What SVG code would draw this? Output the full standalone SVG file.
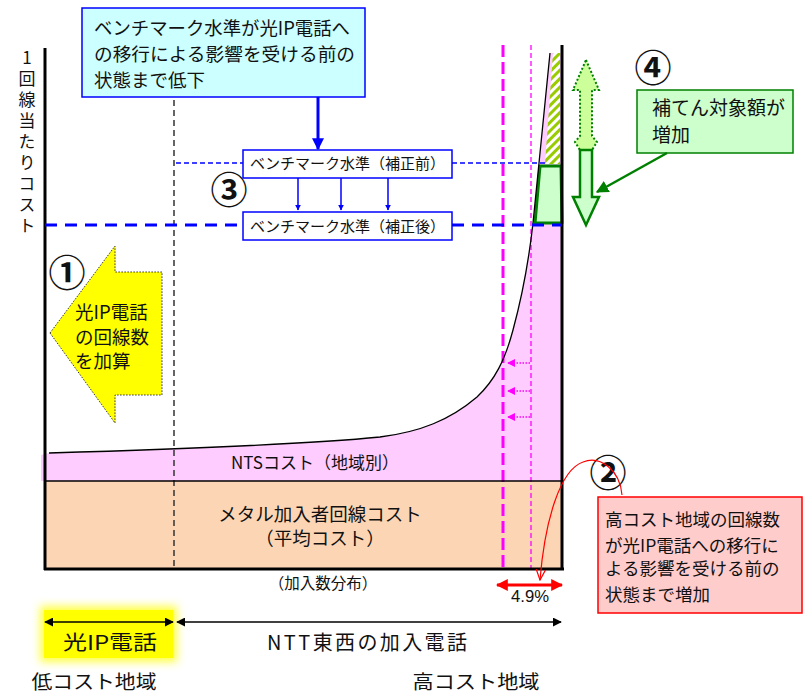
<svg xmlns="http://www.w3.org/2000/svg" width="810" height="693" viewBox="0 0 810 693">
<style>
text{font-family:"Noto Sans CJK JP","Noto Sans",sans-serif;fill:#111}
.ax{stroke:#000;stroke-width:3;fill:none}
.num{font-size:37px;font-weight:bold}
.bm{font-size:15px}
.bbox{fill:#fff;stroke:#0000ff;stroke-width:1.5}
</style>
<defs>
<pattern id="hatch" width="6" height="6" patternUnits="userSpaceOnUse" patternTransform="rotate(45)">
<rect width="6" height="6" fill="#fff"/><rect width="3" height="6" fill="#99CC00"/>
</pattern>
<marker id="mBlue" viewBox="0 0 10 10" refX="9" refY="5" markerWidth="4" markerHeight="4" orient="auto"><path d="M0,0 L10,5 L0,10 Z" fill="#0000ff"/></marker>
<marker id="mBlk" viewBox="0 0 10 10" refX="9" refY="5" markerWidth="6" markerHeight="6" orient="auto-start-reverse"><path d="M0,0 L10,5 L0,10 Z" fill="#000"/></marker>
<marker id="mRed" viewBox="0 0 10 10" refX="9" refY="5" markerWidth="4" markerHeight="4" orient="auto-start-reverse"><path d="M0,0 L10,5 L0,10 Z" fill="#ff0000"/></marker>
<marker id="mRedOpen" viewBox="0 0 10 10" refX="9" refY="5" markerWidth="12" markerHeight="12" markerUnits="userSpaceOnUse" orient="auto"><path d="M0,1 L9,5 L0,9" fill="none" stroke="#ff0000" stroke-width="1"/></marker>
<marker id="mGrn" viewBox="0 0 10 10" refX="9" refY="5" markerWidth="5" markerHeight="5" orient="auto"><path d="M0,0 L10,5 L0,10 Z" fill="#008000"/></marker>
<marker id="mMag" viewBox="0 0 10 10" refX="9" refY="5" markerWidth="8" markerHeight="8" markerUnits="userSpaceOnUse" orient="auto"><path d="M0,0 L10,5 L0,10 Z" fill="#ff00ff"/></marker>
<filter id="glow" x="-20%" y="-30%" width="140%" height="160%"><feGaussianBlur stdDeviation="4"/></filter>
</defs>

<g id="chart">
<path d="M41,455 L49,453 C150,450 300,445 380,437 C420,432 450,420 477,397 C495,380 505,360 513,330 C523,293 530,250 533,223 L550,53 L562,53 L562,481 L41,481 Z" fill="#FFCCFF"/>
<rect x="45" y="481" width="517" height="88" fill="#FCD5B4"/>
<polygon points="553,53 560,53 560,164 545,164" fill="url(#hatch)"/>
<polygon points="540,166 561,166 562,223 535,223" fill="#CCFFCC" stroke="#008000" stroke-width="3" stroke-linejoin="round"/>
<line x1="503" y1="45" x2="503" y2="569" stroke="#ff00ff" stroke-width="3" stroke-dasharray="12,5"/>
<line x1="531" y1="45" x2="531" y2="569" stroke="#ff00ff" stroke-width="1.3" stroke-dasharray="5,3"/>
<path d="M49,453 C150,450 300,445 380,437 C420,432 450,420 477,397 C495,380 505,360 513,330 C523,293 530,250 533,223 L550,53" fill="none" stroke="#000" stroke-width="1.3"/>
<line x1="174" y1="100" x2="174" y2="569" stroke="#333" stroke-width="1.5" stroke-dasharray="6,4"/>
<line x1="45" y1="481" x2="564" y2="481" stroke="#000" stroke-width="1.5"/>
<line class="ax" x1="45" y1="48" x2="45" y2="570"/>
<line class="ax" x1="562" y1="45" x2="562" y2="570"/>
<line class="ax" x1="44" y1="569" x2="564" y2="569"/>
<line x1="176" y1="163" x2="243" y2="163" stroke="#0000ff" stroke-width="1.3" stroke-dasharray="5,3"/>
<line x1="452" y1="163" x2="545" y2="163" stroke="#0000ff" stroke-width="1.3" stroke-dasharray="5,3"/>
<line x1="45" y1="225" x2="243" y2="225" stroke="#0000ff" stroke-width="3" stroke-dasharray="12,8"/>
<line x1="452" y1="225" x2="562" y2="225" stroke="#0000ff" stroke-width="3" stroke-dasharray="12,8"/>
<text x="315" y="469" font-size="17" text-anchor="middle">NTSコスト（地域別）</text>
<text font-size="18.5" text-anchor="middle"><tspan x="320" y="520.5">メタル加入者回線コスト</tspan><tspan x="320" y="545">（平均コスト）</tspan></text>
<text x="323" y="588.5" font-size="15.5" text-anchor="middle">（加入数分布）</text>
<text x="530" y="602" font-size="16" text-anchor="middle" style="font-family:'Liberation Sans',sans-serif" textLength="38" lengthAdjust="spacingAndGlyphs">4.9%</text>
</g>

<g id="yaxis-label">
<text x="27" y="49" font-size="17" style="writing-mode:vertical-rl;text-orientation:upright" letter-spacing="4">1回線当たりコスト</text>
</g>

<g id="callout-top">
<rect x="82" y="8" width="283" height="89" fill="#CCFFFF" stroke="#0000ff" stroke-width="1.5"/>
<text font-size="18.5"><tspan x="94" y="34.5" textLength="256" lengthAdjust="spacingAndGlyphs">ベンチマーク水準が光IP電話へ</tspan><tspan x="94" y="61" textLength="261" lengthAdjust="spacingAndGlyphs">の移行による影響を受ける前の</tspan><tspan x="94" y="87">状態まで低下</tspan></text>
</g>

<g id="bm-before">
<rect class="bbox" x="243" y="150" width="209" height="28"/>
<text class="bm" x="347.5" y="169" text-anchor="middle">ベンチマーク水準（補正前）</text>
</g>
<g id="bm-after">
<rect class="bbox" x="243" y="212" width="209" height="28"/>
<text class="bm" x="347.5" y="231.5" text-anchor="middle">ベンチマーク水準（補正後）</text>
</g>

<g id="yellow-arrow">
<polygon points="50,333 115,246 115,272 162,272 162,395 115,395 115,423" fill="#FFFF00" stroke="#333" stroke-width="1" stroke-dasharray="1.5,1.5"/>
<text font-size="18.5"><tspan x="75" y="318.5">光IP電話</tspan><tspan x="75" y="343.5">の回線数</tspan><tspan x="75" y="368">を加算</tspan></text>
</g>

<g id="green-double-arrow">
<polygon points="586,60 599,90 592,90 592,136 597,142 592,150 586,163 580,150 575,142 580,136 580,90 573,90" fill="#CCFF99" stroke="#008000" stroke-width="2" stroke-dasharray="2,2"/>
<polygon points="580,150 592,150 592,197 599,197 586,225 573,197 580,197" fill="#CCFFCC" stroke="#008000" stroke-width="2.5" stroke-linejoin="miter"/>
</g>

<g id="callout-green">
<rect x="637" y="90" width="156" height="63" fill="#CCFFCC" stroke="#008000" stroke-width="1.5"/>
<text font-size="19"><tspan x="652" y="115">補てん対象額が</tspan><tspan x="652" y="142">増加</tspan></text>
</g>

<g id="callout-red">
<rect x="598" y="497" width="204" height="116" fill="#FFCCCC" stroke="#ff0000" stroke-width="1.5"/>
<text font-size="17.5"><tspan x="605" y="526">高コスト地域の回線数</tspan><tspan x="605" y="552">が光IP電話への移行に</tspan><tspan x="605" y="575">よる影響を受ける前の</tspan><tspan x="605" y="601">状態まで増加</tspan></text>
</g>

<g id="labels-num">
<text class="num" x="67" y="287" text-anchor="middle">①</text>
<text class="num" x="608" y="487" text-anchor="middle">②</text>
<text class="num" x="229" y="204" text-anchor="middle">③</text>
<text class="num" x="653" y="82" text-anchor="middle">④</text>
</g>

<g id="bottom">
<rect x="40" y="606" width="137" height="56" fill="#FFFF44" filter="url(#glow)"/>
<rect x="44" y="610" width="129" height="48" fill="#FFFF00"/>
<text x="110" y="650" font-size="20" text-anchor="middle" textLength="94" lengthAdjust="spacingAndGlyphs">光IP電話</text>
<text x="367" y="650" font-size="20" text-anchor="middle" textLength="200" lengthAdjust="spacing">NTT東西の加入電話</text>
<text x="94" y="689" font-size="19" text-anchor="middle" textLength="125" lengthAdjust="spacingAndGlyphs">低コスト地域</text>
<text x="476" y="689" font-size="19" text-anchor="middle" textLength="127" lengthAdjust="spacingAndGlyphs">高コスト地域</text>
</g>

<g id="connectors" fill="none">
<line x1="318" y1="97" x2="318" y2="149" stroke="#0000ff" stroke-width="3" marker-end="url(#mBlue)"/>
<line x1="298" y1="178" x2="298" y2="210" stroke="#0000ff" stroke-width="1.5" marker-end="url(#mBlue)"/>
<line x1="341" y1="178" x2="341" y2="210" stroke="#0000ff" stroke-width="1.5" marker-end="url(#mBlue)"/>
<line x1="388" y1="178" x2="388" y2="210" stroke="#0000ff" stroke-width="1.5" marker-end="url(#mBlue)"/>
<line x1="530" y1="363" x2="508" y2="363" stroke="#ff00ff" stroke-width="1.3" stroke-dasharray="1.5,1.5" marker-end="url(#mMag)"/>
<line x1="530" y1="391" x2="508" y2="391" stroke="#ff00ff" stroke-width="1.3" stroke-dasharray="1.5,1.5" marker-end="url(#mMag)"/>
<line x1="530" y1="417" x2="508" y2="417" stroke="#ff00ff" stroke-width="1.3" stroke-dasharray="1.5,1.5" marker-end="url(#mMag)"/>
<line x1="667" y1="153" x2="597" y2="192" stroke="#008000" stroke-width="2.5" marker-end="url(#mGrn)"/>
<line x1="497" y1="585" x2="562" y2="585" stroke="#ff0000" stroke-width="3" marker-start="url(#mRed)" marker-end="url(#mRed)"/>
<path d="M622,495 C620,470 600,455 583,462 C560,470 545,520 540,580" stroke="#ff0000" stroke-width="1.2" marker-end="url(#mRedOpen)"/>
<line x1="45" y1="622" x2="173" y2="622" stroke="#000" stroke-width="1.5" marker-start="url(#mBlk)" marker-end="url(#mBlk)"/>
<line x1="177" y1="622" x2="561" y2="622" stroke="#000" stroke-width="1.5" marker-start="url(#mBlk)" marker-end="url(#mBlk)"/>
</g>
</svg>
